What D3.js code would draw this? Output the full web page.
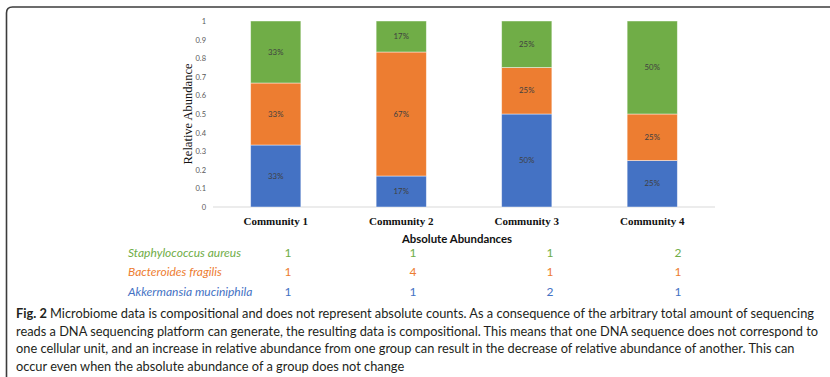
<!DOCTYPE html>
<html>
<head>
<meta charset="utf-8">
<script src="https://cdn.jsdelivr.net/npm/d3@7"></script>
<style>
  html, body { margin: 0; padding: 0; background: #fff; }
  svg { display: block; }
</style>
</head>
<body>
<svg id="fig" width="830" height="377"></svg>
<script>
// Communities and absolute counts of each taxon
const communities = ["Community 1", "Community 2", "Community 3", "Community 4"];
const taxa = ["Akkermansia muciniphila", "Bacteroides fragilis", "Staphylococcus aureus"];
const akkermansia = [1, 1, 2, 1];
const bacteroides = [1, 4, 1, 1];
const staphylococcus = [1, 1, 1, 2];
const yTicks = [0, 0.1, 0.2, 0.3, 0.4, 0.5, 0.6, 0.7, 0.8, 0.9, 1];
const captionLines = [
  [["Fig. 2", true], [" Microbiome data is compositional and does not represent absolute counts. As a consequence of the arbitrary total amount of sequencing", false]],
  [["reads a DNA sequencing platform can generate, the resulting data is compositional. This means that one DNA sequence does not correspond to", false]],
  [["one cellular unit, and an increase in relative abundance from one group can result in the decrease of relative abundance of another. This can", false]],
  [["occur even when the absolute abundance of a group does not change", false]]
];

const counts = { [taxa[0]]: akkermansia, [taxa[1]]: bacteroides, [taxa[2]]: staphylococcus };
const colors = d3.scaleOrdinal().domain(taxa).range(["#4472C4", "#ED7D31", "#70AD47"]);

// Relative abundance table (one row per community)
const rows = communities.map((c, i) => {
  const total = taxa.reduce((s, t) => s + counts[t][i], 0);
  const r = { community: c };
  taxa.forEach(t => r[t] = counts[t][i] / total);
  return r;
});
const stacked = d3.stack().keys(taxa)(rows);

const svg = d3.select("#fig");
const sans = "Lato, 'Open Sans', sans-serif";
const serif = "'Liberation Serif', 'Times New Roman', serif";

// Frame around the figure
svg.append("path")
  .attr("d", "M 6.5 377 L 6.5 13 Q 6.5 7 12.5 7 L 830 7")
  .attr("fill", "none").attr("stroke", "#3c3c3c").attr("stroke-width", 1.6);

const x = d3.scaleBand().domain(communities).range([213, 715]).paddingInner(0.6).paddingOuter(0.3);
const y = d3.scaleLinear().domain([0, 1]).range([207, 21]);

// Y axis labels (no axis line)
const yAxis = svg.append("g").attr("transform", "translate(213,0)")
  .call(d3.axisLeft(y).tickValues(yTicks).tickSize(0).tickPadding(7).tickFormat(d3.format("~g")));
yAxis.select(".domain").remove();
yAxis.selectAll("text").attr("fill", "#595959").style("font-family", sans).style("font-size", "7.5px");

// Baseline
svg.append("line").attr("x1", 213).attr("x2", 715).attr("y1", y(0)).attr("y2", y(0))
  .attr("stroke", "#d9d9d9").attr("stroke-width", 1);

// Stacked bars
const layer = svg.append("g").selectAll("g").data(stacked).join("g")
  .attr("fill", d => colors(d.key));
layer.selectAll("rect").data(d => d).join("rect")
  .attr("x", d => x(d.data.community))
  .attr("width", x.bandwidth())
  .attr("y", d => y(d[1]))
  .attr("height", d => y(d[0]) - y(d[1]))
  .attr("stroke", "#ffffff").attr("stroke-opacity", 0.55).attr("stroke-width", 0.8);

// Segment percentage labels
layer.selectAll("text").data(d => d).join("text")
  .attr("x", d => x(d.data.community) + x.bandwidth() / 2)
  .attr("y", d => y((d[0] + d[1]) / 2))
  .attr("dy", "0.35em")
  .attr("text-anchor", "middle")
  .attr("fill", "#404040")
  .style("font-family", sans).style("font-size", "7.8px")
  .text(d => Math.round((d[1] - d[0]) * 100) + "%");

// Category labels
svg.append("g").selectAll("text").data(communities).join("text")
  .attr("x", d => x(d) + x.bandwidth() / 2)
  .attr("y", 221).attr("dy", "0.35em")
  .attr("text-anchor", "middle")
  .style("font-family", serif).style("font-size", "11px").style("font-weight", "bold")
  .attr("fill", "#111")
  .text(d => d);

// Y axis title
svg.append("text")
  .attr("transform", "translate(188,114) rotate(-90)")
  .attr("text-anchor", "middle").attr("dy", "0.35em")
  .style("font-family", serif).style("font-size", "12.5px")
  .attr("fill", "#111")
  .text("Relative Abundance");

// Absolute abundance table
svg.append("text")
  .attr("x", 457).attr("y", 239.5).attr("dy", "0.35em")
  .attr("text-anchor", "middle")
  .style("font-family", sans).style("font-size", "11.4px").style("font-weight", "bold")
  .attr("fill", "#111")
  .text("Absolute Abundances");

const tableRows = [taxa[2], taxa[1], taxa[0]];
const rowY = d3.scalePoint().domain(tableRows).range([252.5, 292]);
const colX = d3.scaleOrdinal().domain(communities).range([288, 413, 550, 678]);

const tr = svg.append("g").selectAll("g").data(tableRows).join("g")
  .attr("fill", d => colors(d))
  .style("font-family", sans).style("font-size", "12px");
tr.append("text")
  .attr("x", 128).attr("y", d => rowY(d)).attr("dy", "0.35em")
  .style("font-style", "italic")
  .text(d => d);
tr.selectAll("text.v").data(t => communities.map((c, i) => ({ c, v: counts[t][i], t })))
  .join("text").attr("class", "v")
  .attr("x", d => colX(d.c)).attr("y", d => rowY(d.t)).attr("dy", "0.35em")
  .attr("text-anchor", "middle")
  .text(d => d.v);

// Caption
const cap = svg.append("g").style("font-family", sans).style("font-size", "12.8px").attr("fill", "#231f20");
captionLines.forEach((line, i) => {
  const t = cap.append("text").attr("x", 16).attr("y", 314 + i * 17.4).attr("dy", "0.35em");
  line.forEach(([s, b]) => t.append("tspan").style("font-weight", b ? "bold" : "normal").text(s));
});
</script>
</body>
</html>
